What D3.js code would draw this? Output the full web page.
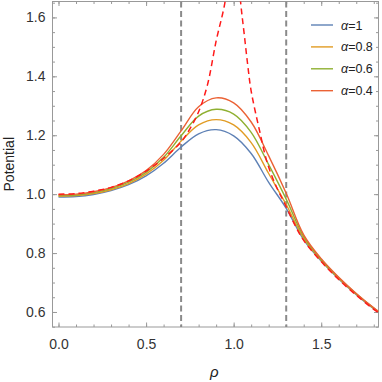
<!DOCTYPE html>
<html>
<head>
<meta charset="utf-8">
<script src="https://cdn.jsdelivr.net/npm/d3@7"></script>
<style>
  body { margin: 0; background: #fff; }
  svg { display: block; font-family: "Liberation Sans", Arial, sans-serif; }
</style>
</head>
<body>
<div id="chart"></div>
<script>
// rho sample points and potential values
const rho = [0, 0.1, 0.2, 0.3, 0.4, 0.5, 0.6, 0.7, 0.8, 0.9, 1.0, 1.1, 1.2, 1.3, 1.4, 1.5, 1.6, 1.7, 1.8, 1.827];
const alpha1 = [0.990, 0.992, 0.999, 1.012, 1.032, 1.062, 1.105, 1.160, 1.205, 1.219, 1.198, 1.138, 1.040, 0.952, 0.845, 0.773, 0.712, 0.659, 0.611, 0.600];
const alpha08 = [0.993, 0.995, 1.002, 1.015, 1.036, 1.068, 1.115, 1.180, 1.235, 1.253, 1.235, 1.175, 1.070, 0.965, 0.850, 0.775, 0.714, 0.660, 0.612, 0.601];
const alpha06 = [0.995, 0.997, 1.005, 1.019, 1.041, 1.074, 1.125, 1.198, 1.265, 1.288, 1.272, 1.210, 1.100, 0.983, 0.856, 0.778, 0.716, 0.662, 0.613, 0.601];
const alpha04 = [0.998, 1.000, 1.008, 1.022, 1.045, 1.080, 1.135, 1.215, 1.297, 1.327, 1.310, 1.245, 1.130, 1.003, 0.862, 0.781, 0.718, 0.663, 0.614, 0.602];

// dashed limiting curve, two branches around the singularity
const rhoLeft = [0, 0.1, 0.2, 0.3, 0.4, 0.5, 0.6, 0.7, 0.75, 0.8, 0.85, 0.9, 0.95, 0.98];
const limitLeft = [1.000, 1.002, 1.010, 1.023, 1.045, 1.078, 1.122, 1.177, 1.222, 1.280, 1.370, 1.520, 1.650, 1.800];
const rhoRight = [1.02, 1.04, 1.06, 1.08, 1.1, 1.15, 1.19, 1.24, 1.29, 1.35, 1.4, 1.5, 1.6, 1.7, 1.8, 1.827];
const limitRight = [1.800, 1.650, 1.545, 1.440, 1.350, 1.210, 1.110, 1.030, 0.970, 0.895, 0.843, 0.771, 0.710, 0.657, 0.609, 0.598];

const seriesNames = ["α=1", "α=0.8", "α=0.6", "α=0.4"];
const seriesValues = [alpha1, alpha08, alpha06, alpha04];
const colors = ["#5E81B5", "#E19C24", "#8FB032", "#EB6235"];

const xMajor = [0, 0.5, 1.0, 1.5];
const xMinor = d3.range(0, 1.85, 0.1);
const yMajor = [0.6, 0.8, 1.0, 1.2, 1.4, 1.6];
const yMinor = d3.range(0.55, 1.66, 0.05);
const boundaries = [0.7, 1.3];

const W = 382, H = 382;
const plot = { left: 52.5, right: 378.5, top: 1.5, bottom: 327 };

const svg = d3.select("#chart").append("svg").attr("width", W).attr("height", H);

const x = d3.scaleLinear().domain([-0.0343, 1.827]).range([plot.left, plot.right]);
const y = d3.scaleLinear().domain([0.549, 1.654]).range([plot.bottom, plot.top]);

svg.append("clipPath").attr("id", "clip")
  .append("rect")
  .attr("x", plot.left).attr("y", plot.top)
  .attr("width", plot.right - plot.left).attr("height", plot.bottom - plot.top);

const frameColor = "#999";
const textColor = "#333";

// axes with inward ticks, mirrored on top and right
function styleAxis(g) {
  g.select(".domain").remove();
  g.selectAll(".tick line").attr("stroke", frameColor);
  g.selectAll(".tick text").attr("fill", textColor).style("font-size", "14px")
    .style("font-family", "Liberation Sans, Arial, sans-serif");
}

svg.append("g").attr("transform", `translate(0,${plot.bottom})`)
  .call(d3.axisBottom(x).tickValues(xMinor).tickSize(-2.5).tickFormat("")).call(styleAxis);
svg.append("g").attr("transform", `translate(0,${plot.bottom})`)
  .call(d3.axisBottom(x).tickValues(xMajor).tickSize(-4.5).tickPadding(12).tickFormat(d3.format(".1f")))
  .call(styleAxis);
svg.append("g").attr("transform", `translate(0,${plot.top})`)
  .call(d3.axisTop(x).tickValues(xMinor).tickSize(-2.5).tickFormat("")).call(styleAxis);
svg.append("g").attr("transform", `translate(0,${plot.top})`)
  .call(d3.axisTop(x).tickValues(xMajor).tickSize(-4.5).tickFormat("")).call(styleAxis);

svg.append("g").attr("transform", `translate(${plot.left},0)`)
  .call(d3.axisLeft(y).tickValues(yMinor).tickSize(-2.5).tickFormat("")).call(styleAxis);
svg.append("g").attr("transform", `translate(${plot.left},0)`)
  .call(d3.axisLeft(y).tickValues(yMajor).tickSize(-4.5).tickPadding(7).tickFormat(d3.format(".1f")))
  .call(styleAxis);
svg.append("g").attr("transform", `translate(${plot.right},0)`)
  .call(d3.axisRight(y).tickValues(yMinor).tickSize(-2.5).tickFormat("")).call(styleAxis);
svg.append("g").attr("transform", `translate(${plot.right},0)`)
  .call(d3.axisRight(y).tickValues(yMajor).tickSize(-4.5).tickFormat("")).call(styleAxis);

// frame
svg.append("rect")
  .attr("x", plot.left).attr("y", plot.top)
  .attr("width", plot.right - plot.left).attr("height", plot.bottom - plot.top)
  .attr("fill", "none").attr("stroke", frameColor).attr("stroke-width", 1);

const plotArea = svg.append("g").attr("clip-path", "url(#clip)");

// region boundaries
plotArea.selectAll(".boundary")
  .data(boundaries)
  .enter()
  .append("line")
  .attr("class", "boundary")
  .attr("x1", (d) => x(d)).attr("x2", (d) => x(d))
  .attr("y1", plot.top).attr("y2", plot.bottom)
  .attr("stroke", "#8a8a8a")
  .attr("stroke-width", 2)
  .attr("stroke-dasharray", "6,3.5");

const line = d3.line()
  .x((d) => x(d[0]))
  .y((d) => y(d[1]))
  .curve(d3.curveCatmullRom.alpha(0.5));

// solid series
seriesValues.forEach((vals, i) => {
  plotArea.append("path")
    .datum(rho.map((r, j) => [r, vals[j]]))
    .attr("fill", "none")
    .attr("stroke", colors[i])
    .attr("stroke-width", 1.4)
    .attr("d", line);
});

// dashed limit curve
[[rhoLeft, limitLeft], [rhoRight, limitRight]].forEach(([rs, vs]) => {
  plotArea.append("path")
    .datum(rs.map((r, j) => [r, vs[j]]))
    .attr("fill", "none")
    .attr("stroke", "#FF1A1A")
    .attr("stroke-width", 1.5)
    .attr("stroke-dasharray", "6,4")
    .attr("d", line);
});

// axis labels
svg.append("text")
  .attr("x", x(0.89))
  .attr("y", 377)
  .attr("text-anchor", "middle")
  .style("font-size", "15px")
  .style("font-style", "italic")
  .attr("fill", "#222")
  .text("ρ");

svg.append("text")
  .attr("transform", `translate(14,${(plot.top + plot.bottom) / 2}) rotate(-90)`)
  .attr("text-anchor", "middle")
  .style("font-size", "14px")
  .attr("fill", "#222")
  .text("Potential");

// legend
const legend = svg.append("g").attr("transform", "translate(311,25)");
seriesNames.forEach((name, i) => {
  const row = legend.append("g").attr("transform", `translate(0,${i * 21.9})`);
  row.append("line")
    .attr("x1", 0).attr("x2", 22)
    .attr("stroke", colors[i]).attr("stroke-width", 1.4);
  const t = row.append("text")
    .attr("x", 30).attr("y", 4.5)
    .style("font-size", "12.5px")
    .attr("fill", "#222");
  t.append("tspan").style("font-style", "italic").text(name.slice(0, 1));
  t.append("tspan").text(name.slice(1));
});
</script>
</body>
</html>
